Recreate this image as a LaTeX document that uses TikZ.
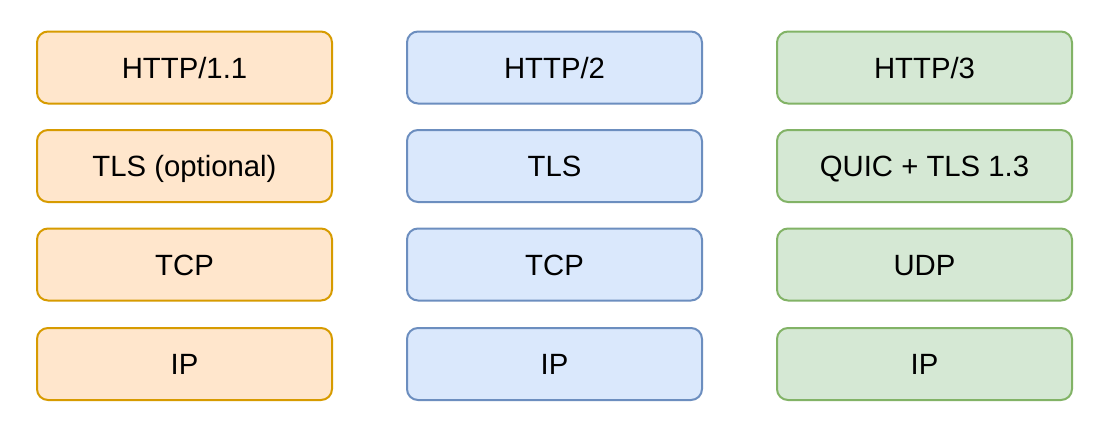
\documentclass[tikz,border=0pt]{standalone}
\usepackage{fontspec}
\setmainfont{Liberation Sans}
\definecolor{ofill}{HTML}{FFE6CC}\definecolor{odraw}{HTML}{D79B00}
\definecolor{bfill}{HTML}{DAE8FC}\definecolor{bdraw}{HTML}{6C8EBF}
\definecolor{gfill}{HTML}{D5E8D4}\definecolor{gdraw}{HTML}{82B366}
\begin{document}
\begin{tikzpicture}[x=1pt,y=-1pt,
  layer/.style={rounded corners=11pt,line width=2pt,minimum width=295pt,minimum height=72pt,inner sep=0pt,font=\fontsize{29.3}{33}\selectfont,text height=21pt,text depth=0pt,text=black},
  orangebox/.style={layer,fill=ofill,draw=odraw},
  bluebox/.style={layer,fill=bfill,draw=bdraw},
  greenbox/.style={layer,fill=gfill,draw=gdraw}]
\useasboundingbox[fill=white] (0,0) rectangle (1110,432);
\def\ya{67.5}\def\yb{166}\def\yc{264.5}\def\yd{364}
\node[orangebox] (a1) at (184.5,\ya) {HTTP/1.1};
\node[orangebox] (a2) at (184.5,\yb) {TLS (optional)};
\node[orangebox] (a3) at (184.5,\yc) {TCP};
\node[orangebox] (a4) at (184.5,\yd) {IP};
\node[bluebox] (b1) at (554.5,\ya) {HTTP/2};
\node[bluebox] (b2) at (554.5,\yb) {TLS};
\node[bluebox] (b3) at (554.5,\yc) {TCP};
\node[bluebox] (b4) at (554.5,\yd) {IP};
\node[greenbox] (c1) at (924.5,\ya) {HTTP/3};
\node[greenbox] (c2) at (924.5,\yb) {QUIC + TLS 1.3};
\node[greenbox] (c3) at (924.5,\yc) {UDP};
\node[greenbox] (c4) at (924.5,\yd) {IP};
\end{tikzpicture}
\end{document}
